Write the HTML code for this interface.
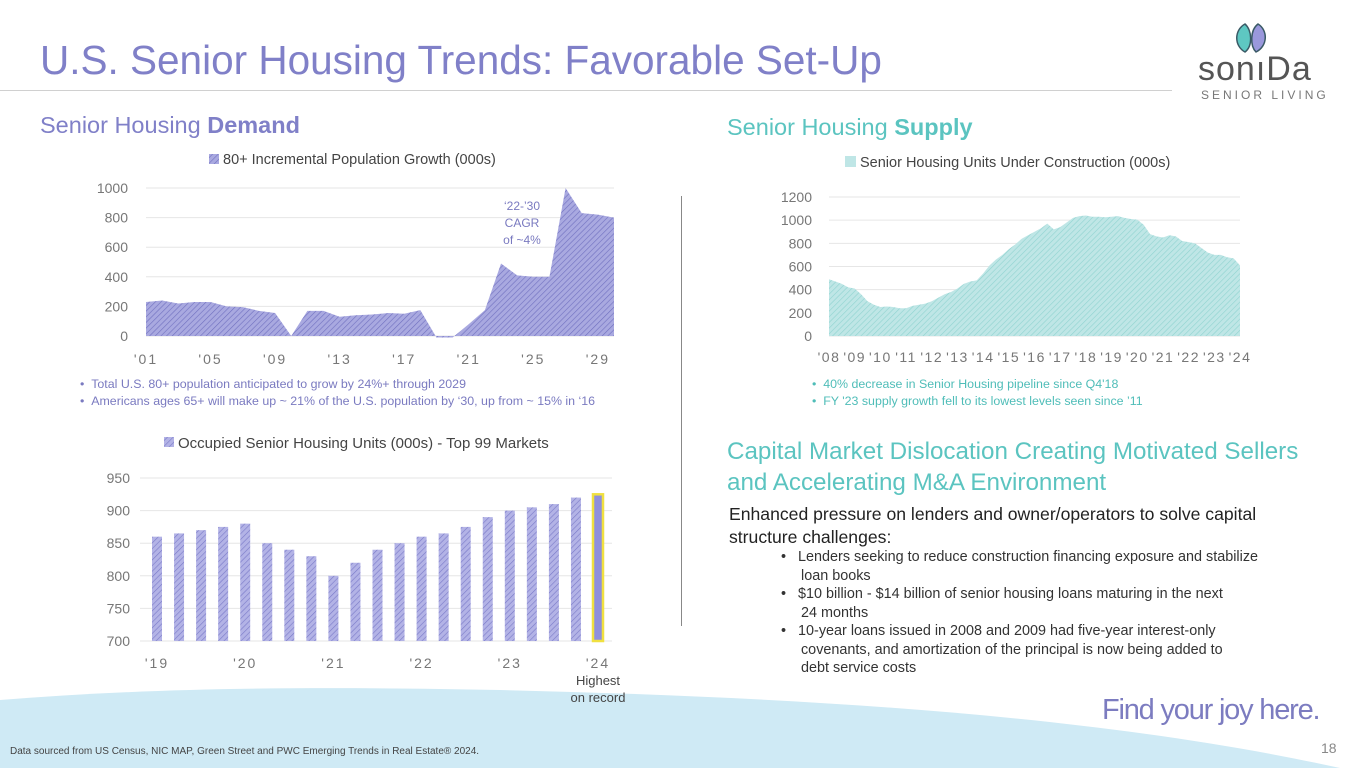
<!DOCTYPE html>
<html><head><meta charset="utf-8">
<style>
*{margin:0;padding:0;box-sizing:border-box}
body{width:1365px;height:768px;overflow:hidden;background:#fff;font-family:"Liberation Sans",sans-serif;position:relative}
.abs{position:absolute;white-space:nowrap}
svg text{font-family:"Liberation Sans",sans-serif}
</style></head><body>
<svg class="abs" style="left:0;top:0" width="1365" height="768">
<path d="M0,700 C150,688 300,686 500,690 C800,697 1100,715 1340,768 L0,768 Z" fill="#cfeaf5"/>
</svg>
<div class="abs" style="left:40px;top:37px;font-size:40.5px;color:#8080c8">U.S. Senior Housing Trends: Favorable Set-Up</div>
<div class="abs" style="left:0;top:90px;width:1172px;height:1px;background:#d0d0d0"></div>
<div class="abs" style="left:1198px;top:16px;width:110px;height:85px">
<svg width="110" height="40" style="position:absolute;left:0;top:0"><path d="M47,8 C36,14 36,30 47,36 C55,30 54,14 47,8Z" fill="#5ec7c2" stroke="#3a5a66" stroke-width="1.5"/><path d="M60,8 C70,14 70,30 58,36 C52,30 52,14 60,8Z" fill="#9a98dc" stroke="#3a5a66" stroke-width="1.5"/></svg>
<div style="position:absolute;left:0;top:34px;font-size:34px;color:#555;letter-spacing:1px">sonıDa</div>
<div style="position:absolute;left:3px;top:72px;font-size:12px;color:#777;letter-spacing:3px">SENIOR LIVING</div>
</div>
<div class="abs" style="left:40px;top:112px;font-size:23.5px;color:#8080c8">Senior Housing <b>Demand</b></div>
<div class="abs" style="left:727px;top:114px;font-size:23.5px;color:#5bc4c0">Senior Housing <b>Supply</b></div>
<div class="abs" style="left:681px;top:196px;width:1px;height:430px;background:#888"></div>

<svg class="abs" id="demand" style="left:0;top:140px" width="680" height="230"></svg>
<svg class="abs" id="supply" style="left:700px;top:140px" width="560" height="230"></svg>
<svg class="abs" id="occ" style="left:100px;top:425px" width="560" height="280"></svg>

<div class="abs" style="left:80px;top:376px;font-size:12.4px;color:#7a7ac0;line-height:17px">• &nbsp;Total U.S. 80+ population anticipated to grow by 24%+ through 2029<br>• &nbsp;Americans ages 65+ will make up ~ 21% of the U.S. population by ‘30, up from ~ 15% in ‘16</div>
<div class="abs" style="left:812px;top:376px;font-size:12.4px;color:#4fbdb8;line-height:17px">• &nbsp;40% decrease in Senior Housing pipeline since Q4'18<br>• &nbsp;FY '23 supply growth fell to its lowest levels seen since ’11</div>
<div class="abs" style="left:727px;top:436px;font-size:24.2px;color:#5bc4c0;line-height:31px">Capital Market Dislocation Creating Motivated Sellers<br>and Accelerating M&amp;A Environment</div>
<div class="abs" style="left:729px;top:503px;font-size:17.6px;color:#222;line-height:23px">Enhanced pressure on lenders and owner/operators to solve capital<br>structure challenges:</div>
<div class="abs" style="left:781px;top:548px;font-size:14.4px;color:#333;line-height:18.5px">
<div>• &nbsp;&nbsp;Lenders seeking to reduce construction financing exposure and stabilize<br>&nbsp;&nbsp;&nbsp;&nbsp;&nbsp;loan books</div>
<div>• &nbsp;&nbsp;$10 billion - $14 billion of senior housing loans maturing in the next<br>&nbsp;&nbsp;&nbsp;&nbsp;&nbsp;24 months</div>
<div>• &nbsp;&nbsp;10-year loans issued in 2008 and 2009 had five-year interest-only<br>&nbsp;&nbsp;&nbsp;&nbsp;&nbsp;covenants, and amortization of the principal is now being added to<br>&nbsp;&nbsp;&nbsp;&nbsp;&nbsp;debt service costs</div>
</div>
<div class="abs" style="left:1102px;top:694px;font-size:29px;color:#7c7cc0;letter-spacing:-1.2px">Find your joy here.</div>
<div class="abs" style="left:10px;top:746px;font-size:10px;color:#444">Data sourced from US Census, NIC MAP, Green Street and PWC Emerging Trends in Real Estate® 2024.</div>
<div class="abs" style="left:1321px;top:740px;font-size:14px;color:#888">18</div>

<script>
const NS="http://www.w3.org/2000/svg";
function mk(p,t,a,txt){const e=document.createElementNS(NS,t);for(const k in a)e.setAttribute(k,a[k]);if(txt!==undefined)e.textContent=txt;p.appendChild(e);return e;}
function pattern(svg,id,bg,line){const d=mk(svg,'defs',{});const p=mk(d,'pattern',{id:id,width:4,height:4,patternUnits:'userSpaceOnUse',patternTransform:'rotate(45)'});mk(p,'rect',{width:4,height:4,fill:bg});mk(p,'line',{x1:0,y1:0,x2:0,y2:4,stroke:line,'stroke-width':1.2});}

const demandYears=['01','02','03','04','05','06','07','08','09','10','11','12','13','14','15','16','17','18','19','20','21','22','23','24','25','26','27','28','29','30'];
const demandValues=[230,240,220,230,230,200,195,170,155,0,170,170,130,140,145,155,150,175,-10,-10,80,175,490,410,400,400,1000,830,820,800];
const demandTicks=[0,200,400,600,800,1000];
const demandXLabels=["'01","'05","'09","'13","'17","'21","'25","'29"];
(function(){
const s=document.getElementById('demand');pattern(s,'pd','#a9a9e0','#7070c0');
const x0=146,x1=614,yb=196,yt=48;
const X=i=>x0+i*(x1-x0)/(demandValues.length-1);const Y=v=>yb-(v/1000)*(yb-yt);
demandTicks.forEach(t=>{mk(s,'line',{x1:x0,x2:x1,y1:Y(t),y2:Y(t),stroke:'#e6e6e6'});const l=mk(s,'text',{x:128,y:Y(t)+5,'text-anchor':'end','font-size':14,fill:'#777'},t);

});
let d='M'+X(0)+','+Y(0);demandValues.forEach((v,i)=>d+=' L'+X(i)+','+Y(v));d+=' L'+X(demandValues.length-1)+','+Y(0)+' Z';
const a=mk(s,'path',{d:d,fill:'url(#pd)'});


demandXLabels.forEach((t,k)=>{const l=mk(s,'text',{x:X(k*4),y:224,'text-anchor':'middle','font-size':14,fill:'#777','letter-spacing':'2'},t);

});
const lg=mk(s,'g',{});


mk(lg,'rect',{x:209,y:14,width:10,height:10,fill:'url(#pd)'});mk(lg,'text',{x:223,y:24,'font-size':14.5,fill:'#444'},'80+ Incremental Population Growth (000s)');
const an=mk(s,'text',{x:522,y:70,'text-anchor':'middle','font-size':12,fill:'#7a7ac0'});


mk(an,'tspan',{x:522,dy:0},"‘22-’30");mk(an,'tspan',{x:522,dy:17},'CAGR');mk(an,'tspan',{x:522,dy:17},'of ~4%');
})();

const supplyValues=[490,470,450,420,410,360,300,270,250,255,250,240,240,260,270,280,300,330,360,380,410,450,470,480,540,610,660,700,750,790,840,870,900,930,970,920,940,980,1020,1035,1040,1030,1030,1025,1030,1035,1020,1010,1005,960,880,860,850,870,860,820,810,800,760,720,700,700,680,670,610];
const supplyTicks=[0,200,400,600,800,1000,1200];
const supplyXLabels=["'08","'09","'10","'11","'12","'13","'14","'15","'16","'17","'18","'19","'20","'21","'22","'23","'24"];
(function(){
const s=document.getElementById('supply');pattern(s,'ps','#bfe6e6','#8fd3d0');
const x0=129,x1=540,yb=196,yt=57;
const X=i=>x0+i*(x1-x0)/(supplyValues.length-1);const Y=v=>yb-(v/1200)*(yb-yt);
supplyTicks.forEach(t=>{mk(s,'line',{x1:x0,x2:x1,y1:Y(t),y2:Y(t),stroke:'#e6e6e6'});const l=mk(s,'text',{x:112,y:Y(t)+5,'text-anchor':'end','font-size':14,fill:'#777'},t);

});
let d='M'+X(0)+','+Y(0);supplyValues.forEach((v,i)=>d+=' L'+X(i)+','+Y(v));d+=' L'+X(supplyValues.length-1)+','+Y(0)+' Z';
const a=mk(s,'path',{d:d,fill:'url(#ps)'});


supplyXLabels.forEach((t,k)=>{const l=mk(s,'text',{x:X(k*4),y:222,'text-anchor':'middle','font-size':14,fill:'#777','letter-spacing':'1.5'},t);

});
const lg=mk(s,'g',{});


mk(lg,'rect',{x:145,y:16,width:11,height:11,fill:'#bfe6e6'});mk(lg,'text',{x:160,y:27,'font-size':14.5,fill:'#444'},'Senior Housing Units Under Construction (000s)');
})();

const occValues=[860,865,870,875,880,850,840,830,800,820,840,850,860,865,875,890,900,905,910,920,925];
const occTicks=[700,750,800,850,900,950];
const occXLabels=["'19","'20","'21","'22","'23","'24"];
(function(){
const s=document.getElementById('occ');pattern(s,'po','#b3b3e6','#7a7ac8');
const x0=57,x1=498,yb=216,yt=53,n=occValues.length;
const X=i=>x0+i*(x1-x0)/(n-1);const Y=v=>yb-((v-700)/250)*(yb-yt);
occTicks.forEach(t=>{mk(s,'line',{x1:40,x2:512,y1:Y(t),y2:Y(t),stroke:'#e6e6e6'});const l=mk(s,'text',{x:30,y:Y(t)+5,'text-anchor':'end','font-size':14,fill:'#777'},t);

});
occValues.forEach((v,i)=>{const last=i===n-1;const r=mk(s,'rect',{x:X(i)-5,y:Y(v),width:10,height:yb-Y(v),fill:last?'#8f8fdc':'url(#po)',stroke:last?'#f0e040':'none','stroke-width':last?2.5:0});

});
occXLabels.forEach((t,k)=>{const l=mk(s,'text',{x:X(k*4),y:243,'text-anchor':'middle','font-size':14,fill:'#777','letter-spacing':'2'},t);

});
const lg=mk(s,'g',{});


mk(lg,'rect',{x:64,y:12,width:10,height:10,fill:'url(#po)'});mk(lg,'text',{x:78,y:23,'font-size':15,fill:'#444'},'Occupied Senior Housing Units (000s) - Top 99 Markets');
const an=mk(s,'text',{x:X(n-1),y:260,'text-anchor':'middle','font-size':13,fill:'#444'});


mk(an,'tspan',{x:X(n-1),dy:0},'Highest');mk(an,'tspan',{x:X(n-1),dy:17},'on record');
})();
</script>
</body></html>
